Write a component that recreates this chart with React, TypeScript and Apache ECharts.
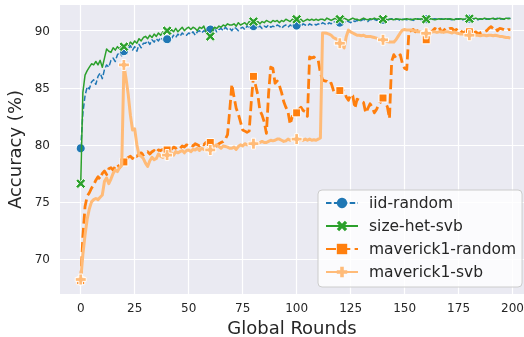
import React, { useEffect, useRef } from "react";
import * as echarts from "echarts";

const xTicks = [0, 25, 50, 75, 100, 125, 150, 175, 200];
const yTicks = [70, 75, 80, 85, 90];
const seriesNames = ["iid-random", "size-het-svb", "maverick1-random", "maverick1-svb"];

const iidRandom = [
  79.7, 82.8, 84.3, 85.1, 84.9, 85.5, 85.7, 85.3, 86.0, 86.3,
  85.8, 86.6, 87.0, 86.8, 87.4, 87.6, 87.3, 87.9, 88.1, 87.8,
  88.2, 88.5, 88.4, 88.7, 88.3, 88.6, 88.2, 88.8, 88.5, 88.9,
  88.9, 89.1, 88.8, 89.2, 89.0, 89.3, 89.1, 89.4, 89.2, 89.5,
  89.25, 89.5, 89.3, 89.6, 89.4, 89.7, 89.5, 89.8, 89.6, 89.6,
  89.8, 89.7, 89.9, 89.6, 89.9, 90.0, 89.8, 90.0, 89.9, 89.8,
  90.1, 90.0, 90.2, 89.9, 90.1, 90.2, 90.0, 90.3, 90.1, 90.2,
  90.0, 90.3, 90.2, 90.0, 90.2, 90.3, 90.1, 90.4, 90.3, 90.2,
  90.4, 90.2, 90.3, 90.4, 90.2, 90.4, 90.3, 90.5, 90.3, 90.4,
  90.3, 90.5, 90.4, 90.2, 90.4, 90.5, 90.3, 90.5, 90.4, 90.5,
  90.45, 90.5, 90.4, 90.6, 90.5, 90.4, 90.6, 90.5, 90.6, 90.5,
  90.6, 90.5, 90.7, 90.6, 90.5, 90.7, 90.6, 90.8, 90.7, 90.6,
  90.7, 90.8, 90.7, 90.9, 90.8, 90.7, 90.9, 90.8, 90.9, 90.8,
  90.9, 91.0, 90.9, 90.8, 91.0, 90.9, 91.0, 90.9, 91.0, 90.9,
  90.95, 91.0, 90.9, 91.0, 91.05, 90.9, 91.0, 91.0, 90.9, 91.0,
  91.0, 90.95, 91.05, 91.0, 90.9, 91.0, 91.05, 91.0, 90.95, 91.0,
  91.0, 91.05, 90.95, 91.0, 91.05, 91.0, 90.95, 91.05, 91.0, 91.0,
  91.05, 91.0, 90.95, 91.05, 91.0, 91.05, 91.0, 90.95, 91.05, 91.0,
  91.05, 91.0, 91.05, 91.0, 90.95, 91.05, 91.0, 91.05, 91.0, 91.05,
  91.0, 91.05, 91.0, 91.1, 91.0, 91.05, 91.0, 91.05, 91.1, 91.05,
];

const sizeHetSvb = [
  76.6, 84.6, 86.1, 86.5, 86.8, 87.1, 87.0, 87.3, 87.0, 87.4,
  86.8, 87.6, 88.4, 88.2, 88.1, 88.5, 88.3, 88.6, 88.4, 88.7,
  88.6, 88.8, 88.7, 89.0, 88.8, 89.1, 88.9, 89.3, 89.1, 89.4,
  89.5, 89.3, 89.6, 89.4, 89.7, 89.5, 89.8, 89.6, 89.9, 89.7,
  90.0, 89.8, 90.1, 89.9, 90.2, 89.9, 90.1, 90.3, 90.0, 90.2,
  90.3, 90.1, 90.3, 90.2, 90.0, 90.3, 90.2, 90.4, 89.9, 89.7,
  89.5, 90.0, 90.3, 90.2, 90.4, 90.3, 90.5, 90.4, 90.6, 90.5,
  90.5, 90.6, 90.4, 90.7, 90.5, 90.6, 90.7, 90.5, 90.8, 90.7,
  90.8, 90.7, 90.8, 90.6, 90.8, 90.7, 90.9, 90.8, 90.7, 90.9,
  90.8, 90.9, 90.7, 90.9, 90.8, 91.0, 90.9, 90.8, 91.0, 90.9,
  91.0, 90.9, 91.0, 90.8, 90.9, 91.0, 90.9, 91.0, 90.9, 91.0,
  90.9, 91.0, 91.0, 90.9, 91.1, 91.0, 90.9, 91.0, 91.1, 90.9,
  91.0, 91.0, 91.1, 91.0, 90.9, 91.0, 91.1, 91.0, 91.0, 90.9,
  91.0, 91.1, 91.0, 90.95, 91.05, 91.0, 91.1, 91.0, 91.05, 91.0,
  91.0, 91.05, 90.95, 91.0, 91.0, 90.95, 91.05, 91.0, 91.0, 90.95,
  91.0, 91.05, 91.0, 90.95, 91.0, 91.05, 91.0, 91.0, 91.05, 90.95,
  91.0, 91.0, 91.05, 91.0, 90.95, 91.0, 91.05, 91.0, 91.0, 91.05,
  91.0, 91.05, 91.0, 90.95, 91.05, 91.0, 91.05, 91.0, 91.0, 91.05,
  91.05, 91.0, 91.05, 91.1, 91.0, 91.05, 91.0, 91.1, 91.05, 91.0,
  91.05, 91.1, 91.0, 91.05, 91.1, 91.05, 91.0, 91.1, 91.05, 91.1,
];

const maverickRandom = [
  68.1, 72.0, 74.6, 75.5, 75.8, 76.2, 76.5, 76.9, 77.2, 77.0,
  77.5, 77.7, 77.4, 77.9, 78.0, 77.8, 78.1, 78.3, 78.0, 78.3,
  78.5, 78.7, 78.9, 79.0, 78.8, 79.1, 79.0, 79.2, 79.3, 79.1,
  79.3, 79.4, 79.2, 79.4, 79.5, 79.3, 79.55, 79.5, 79.6, 79.4,
  79.55, 79.7, 79.6, 79.8, 79.7, 79.85, 79.7, 79.9, 79.8, 80.0,
  79.9, 80.0, 79.9, 80.1, 80.0, 79.9, 80.1, 80.0, 80.2, 80.1,
  80.2, 80.1, 80.0, 79.9, 80.1, 80.2, 80.3, 80.5, 80.9, 83.0,
  85.3, 84.2, 83.2, 82.7, 82.0, 81.3, 81.2, 81.1, 81.2, 83.8,
  86.0, 85.2, 84.4, 83.0, 82.6, 82.0, 81.0, 84.5, 86.8, 86.7,
  85.4, 85.6, 85.2, 84.6, 83.8, 83.3, 82.9, 81.8, 82.5, 82.6,
  82.8, 83.1, 83.3, 83.0, 82.9, 82.5, 87.7, 87.6, 87.7, 87.5,
  87.4, 86.3, 85.7, 85.6, 85.55, 85.3, 85.4, 84.8, 84.4, 84.6,
  84.75, 84.8, 84.7, 84.2, 83.9, 84.4, 84.3, 83.2, 84.0, 83.9,
  83.8, 83.7, 82.8, 83.2, 83.6, 83.3, 82.8, 83.1, 83.5, 83.8,
  84.1, 83.7, 83.35, 82.3, 87.3, 87.9, 87.6, 87.7, 87.9, 87.1,
  86.7, 86.6, 89.9, 90.0, 90.1, 89.9, 90.0, 89.9, 89.8, 89.5,
  89.2, 89.4, 89.8, 90.0, 90.2, 90.1, 90.3, 89.9, 90.0, 90.2,
  90.1, 90.2, 90.2, 90.0, 90.1, 89.9, 90.0, 89.8, 89.9, 90.0,
  89.9, 89.8, 89.8, 89.9, 89.7, 89.8, 89.9, 89.9, 90.0, 90.2,
  90.35, 90.2, 90.3, 90.0, 90.2, 90.15, 90.1, 90.0, 90.1, 90.1,
];

const maverickSvb = [
  68.2, 70.4, 72.1, 73.5, 74.4, 75.0, 75.2, 75.3, 75.2, 75.4,
  75.6, 76.8, 77.1, 76.6, 77.0, 77.5, 77.8, 77.65, 78.0, 78.2,
  87.0, 85.8, 84.4, 82.6, 81.3, 81.4, 80.0, 79.1, 79.0, 78.8,
  78.4, 78.1, 78.6, 78.9, 78.7, 78.8, 79.2, 79.0, 78.9, 79.0,
  79.1, 79.2, 79.3, 79.1, 79.4, 79.3, 79.4, 79.5, 79.3, 79.5,
  79.55, 79.4, 79.6, 79.55, 79.7, 79.5, 79.7, 79.6, 79.5, 79.7,
  79.55, 79.7, 79.9, 80.0, 79.85, 79.7, 79.9, 79.85, 79.8, 79.7,
  79.7, 79.8, 79.6, 79.85, 80.0, 79.9, 80.1, 80.0, 80.1, 80.2,
  80.1, 80.2, 80.1, 80.2, 80.3, 80.2, 80.2, 80.3, 80.4, 80.35,
  80.4, 80.5, 80.5, 80.4, 80.3, 80.35, 80.5, 80.4, 80.5, 80.4,
  80.5, 80.4, 80.45, 80.4, 80.5, 80.4, 80.5, 80.4, 80.45, 80.4,
  80.5, 80.6, 89.8, 89.8, 89.77, 89.7, 89.6, 89.4, 89.3, 89.2,
  88.9, 88.7, 88.5, 89.5, 90.05, 89.9, 89.8, 89.7, 89.6, 89.6,
  89.55, 89.6, 89.5, 89.5, 89.5, 89.45, 89.4, 89.35, 89.3, 89.25,
  89.2, 89.1, 89.05, 89.0, 89.0, 89.0, 89.2, 89.5, 89.8, 90.05,
  90.1, 90.05, 90.06, 90.05, 90.0, 90.0, 89.9, 89.9, 89.85, 89.8,
  89.77, 89.8, 89.85, 89.9, 89.9, 89.85, 89.9, 89.9, 89.85, 89.9,
  89.9, 89.85, 89.8, 89.9, 89.8, 89.75, 89.7, 89.7, 89.65, 89.6,
  89.6, 89.6, 89.65, 89.6, 89.6, 89.55, 89.6, 89.6, 89.55, 89.6,
  89.6, 89.55, 89.6, 89.55, 89.5, 89.5, 89.45, 89.4, 89.4, 89.35,
];

const MARK_EVERY = 20;
const X_SYMBOL =
  "path://M0,-1.6 L2.0,-3.6 L3.6,-2.0 L1.6,0 L3.6,2.0 L2.0,3.6 L0,1.6 L-2.0,3.6 L-3.6,2.0 L-1.6,0 L-3.6,-2.0 L-2.0,-3.6 Z";
const PLUS_SYMBOL =
  "path://M-1.2,-3.5 L1.2,-3.5 L1.2,-1.2 L3.5,-1.2 L3.5,1.2 L1.2,1.2 L1.2,3.5 L-1.2,3.5 L-1.2,1.2 L-3.5,1.2 L-3.5,-1.2 L-1.2,-1.2 Z";

const FONT = "DejaVu Sans";
const TEXT = "#262626";

function toData(values: number[]) {
  return values.map((v, i) =>
    i % MARK_EVERY === 0 ? { value: [i, v] } : { value: [i, v], symbol: "none" }
  );
}

export default function App() {
  const ref = useRef<HTMLDivElement>(null);
  useEffect(() => {
    if (!ref.current) return;
    const chart = echarts.init(ref.current, undefined, { renderer: "svg" });
    const mk = (
      name: string,
      values: number[],
      color: string,
      width: number,
      dash: any,
      symbol: string,
      symbolSize: number,
      z: number
    ) => ({
      type: "line",
      name,
      data: toData(values),
      z,
      showAllSymbol: true,
      symbol,
      symbolSize,
      color,
      lineStyle: { color, width, type: dash, join: "round", cap: "butt" },
      itemStyle: { color, borderColor: "#ffffff", borderWidth: 1 },
      emphasis: { disabled: true },
    });
    chart.setOption({
      animation: false,
      grid: {
        left: 60,
        top: 5,
        right: 0,
        bottom: 43,
        show: true,
        backgroundColor: "#EAEAF2",
        borderWidth: 0,
        containLabel: false,
        outerBoundsMode: "none",
      },
      xAxis: {
        type: "value",
        min: -9.6,
        max: 205.3,
        name: "Global Rounds",
        nameLocation: "middle",
        nameGap: 24,
        nameTextStyle: { fontFamily: FONT, fontSize: 18, color: TEXT },
        axisLine: { show: false },
        axisTick: { show: false, customValues: xTicks },
        axisLabel: {
          customValues: xTicks,
          fontFamily: FONT,
          fontSize: 12,
          color: TEXT,
          margin: 8,
        },
        splitLine: { show: true, lineStyle: { color: "#ffffff", width: 1.2 } },
      },
      yAxis: {
        type: "value",
        min: 66.93,
        max: 92.25,
        name: "Accuracy (%)",
        nameLocation: "middle",
        nameGap: 32,
        nameTextStyle: { fontFamily: FONT, fontSize: 18, color: TEXT },
        axisLine: { show: false },
        axisTick: { show: false, customValues: yTicks },
        axisLabel: {
          customValues: yTicks,
          fontFamily: FONT,
          fontSize: 12,
          color: TEXT,
          margin: 10,
        },
        splitLine: { show: true, lineStyle: { color: "#ffffff", width: 1.2 } },
      },
      legend: {
        orient: "vertical",
        left: 318,
        top: 190,
        padding: [5, 6, 7, 7],
        itemWidth: 32,
        itemHeight: 13,
        itemGap: 7,
        itemStyle: { borderWidth: 0 },
        backgroundColor: "rgba(255,255,255,0.8)",
        borderColor: "#cccccc",
        borderWidth: 1,
        borderRadius: 4,
        textStyle: {
          fontFamily: FONT,
          fontSize: 15.5,
          color: TEXT,
          lineHeight: 16,
          padding: [0, 0, 0, 6],
        },
        data: seriesNames,
      },
      series: [
        mk(seriesNames[0], iidRandom, "#1f77b4", 1.5, [5.5, 2.4], "circle", 9, 2),
        mk(seriesNames[1], sizeHetSvb, "#2ca02c", 1.5, "solid", X_SYMBOL, 10, 3),
        mk(seriesNames[2], maverickRandom, "#ff7f0e", 2.8, [10, 4.3], "rect", 8, 4),
        mk(seriesNames[3], maverickSvb, "#ffbb78", 3, "solid", PLUS_SYMBOL, 11, 5),
      ],
    });
    return () => chart.dispose();
  }, []);
  return (
    <div
      ref={ref}
      style={{ position: "fixed", left: 0, top: 0, width: 524, height: 337 }}
    />
  );
}
